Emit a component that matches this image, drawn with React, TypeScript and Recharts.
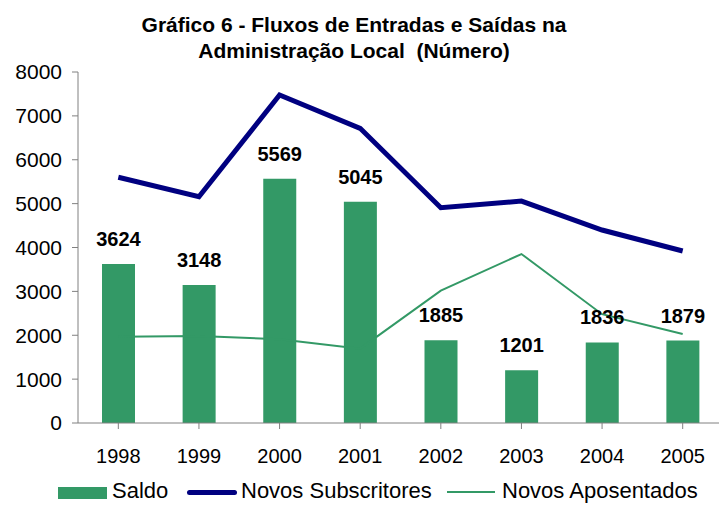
import React from 'react';
import {
  ComposedChart,
  Bar,
  Line,
  XAxis,
  YAxis,
  LabelList,
} from 'recharts';

const years = ['1998', '1999', '2000', '2001', '2002', '2003', '2004', '2005'];
const saldo = [3624, 3148, 5569, 5045, 1885, 1201, 1836, 1879];
const novosSubscritores = [5600, 5158, 7475, 6716, 4907, 5059, 4398, 3920];
const novosAposentados = [1967, 1983, 1907, 1694, 3016, 3851, 2480, 2028];
const yTicks = [0, 1000, 2000, 3000, 4000, 5000, 6000, 7000, 8000];

const chartData = years.map((year, i) => ({
  year,
  saldo: saldo[i],
  subscritores: novosSubscritores[i],
  aposentados: novosAposentados[i],
}));

const FONT = '"Liberation Sans", Arial, sans-serif';
const GREEN = '#339966';
const NAVY = '#000080';

// legend drawn as plain html under the axis
function ChartLegend() {
  const text: React.CSSProperties = { position: 'absolute', top: 480, lineHeight: '22px', fontSize: 22, whiteSpace: 'nowrap' };
  return (
    <>
      <div style={{ position: 'absolute', left: 58, top: 487, width: 49, height: 12, background: GREEN }} />
      <span style={{ ...text, left: 112 }}>Saldo</span>
      <div style={{ position: 'absolute', left: 187, top: 490, width: 50, height: 5, borderRadius: 2.5, background: NAVY }} />
      <span style={{ ...text, left: 241 }}>Novos Subscritores</span>
      <div style={{ position: 'absolute', left: 447, top: 491, width: 48, height: 2, background: GREEN }} />
      <span style={{ ...text, left: 502 }}>Novos Aposentados</span>
    </>
  );
}

export default function App() {
  return (
    <div
      style={{
        position: 'absolute',
        left: 0,
        top: 0,
        width: 719,
        height: 505,
        overflow: 'hidden',
        background: '#fff',
        fontFamily: FONT,
        color: '#000',
      }}
    >
      <div
        style={{
          position: 'absolute',
          left: 0,
          top: 12,
          width: 708,
          textAlign: 'center',
          fontSize: 21,
          fontWeight: 'bold',
          lineHeight: '26px',
          whiteSpace: 'nowrap',
        }}
      >
        Gráfico 6 - Fluxos de Entradas e Saídas na
        <br />
        Administração Local&nbsp; (Número)
      </div>
      <ComposedChart
        width={730}
        height={505}
        data={chartData}
        margin={{ top: 72, right: 7, left: 0, bottom: 0 }}
        style={{ position: 'absolute', left: 0, top: 0 }}
      >
        <XAxis
          dataKey="year"
          axisLine={{ stroke: '#808080' }}
          tickLine={{ stroke: '#808080' }}
          tick={{ fill: '#000', fontSize: 20, fontFamily: FONT }}
          tickSize={6}
          tickMargin={20}
          height={82}
          interval={0}
        />
        <YAxis
          domain={[0, 8000]}
          ticks={yTicks}
          width={78}
          axisLine={{ stroke: '#808080' }}
          tickLine={{ stroke: '#808080' }}
          tick={{ fill: '#000', fontSize: 21, fontFamily: FONT }}
          tickSize={6}
          tickMargin={10}
        />
        <Bar dataKey="saldo" name="Saldo" fill={GREEN} barSize={33} isAnimationActive={false}>
          <LabelList
            dataKey="saldo"
            position="top"
            offset={18}
            style={{ fill: '#000', fontSize: 20, fontWeight: 'bold', fontFamily: FONT }}
          />
        </Bar>
        <Line
          dataKey="subscritores"
          name="Novos Subscritores"
          stroke={NAVY}
          strokeWidth={5}
          dot={false}
          activeDot={false}
          isAnimationActive={false}
          type="linear"
        />
        <Line
          dataKey="aposentados"
          name="Novos Aposentados"
          stroke={GREEN}
          strokeWidth={2}
          dot={false}
          activeDot={false}
          isAnimationActive={false}
          type="linear"
        />
      </ComposedChart>
      <ChartLegend />
    </div>
  );
}
